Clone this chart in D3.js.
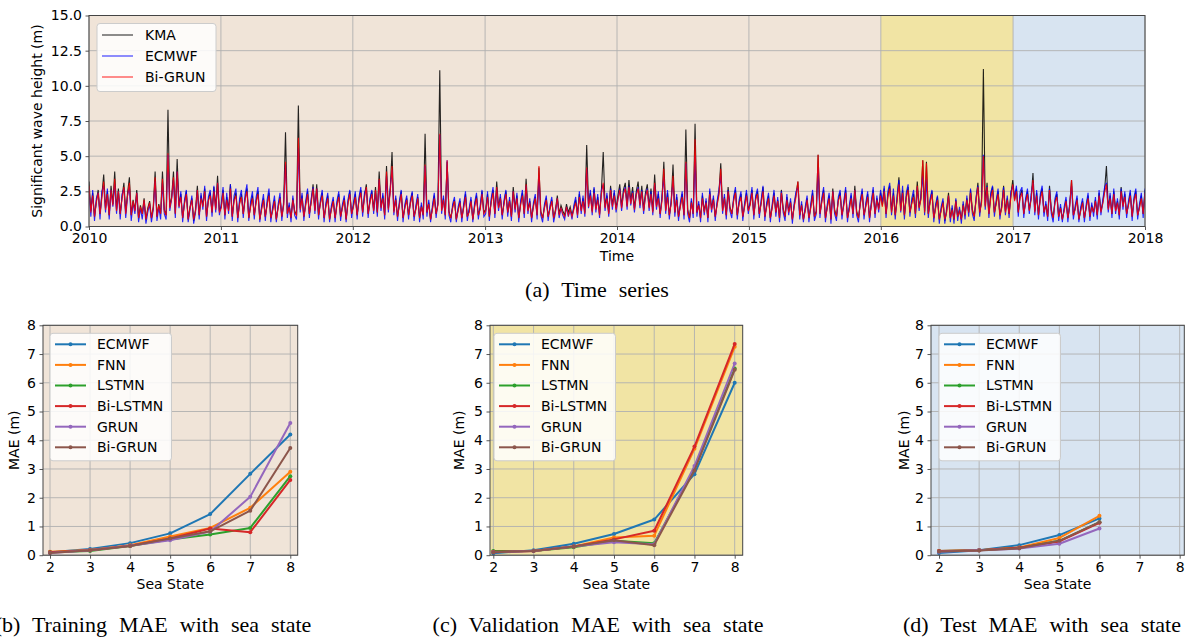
<!DOCTYPE html>
<html><head><meta charset="utf-8">
<script src="https://cdn.jsdelivr.net/npm/d3@7"></script>
<style>
body{margin:0;background:#fff}
svg{display:block}
text{font-family:"DejaVu Sans",sans-serif;fill:#000}
.cap{font-family:"Liberation Serif","Times New Roman",serif;font-size:22px;word-spacing:6.5px}
</style></head>
<body><svg id="chart" width="1189" height="641"></svg>
<script>
// ---------------- data ----------------
const years = [2010, 2011, 2012, 2013, 2014, 2015, 2016, 2017, 2018];
const periods = ["Training", "Validation", "Test"];
const periodStart = [2010, 2016, 2017];
const periodEnd = [2016, 2017, 2018];
const yTicksTop = [0, 2.5, 5, 7.5, 10, 12.5, 15];
const seriesNames = ["KMA", "ECMWF", "Bi-GRUN"];

// ~5-day samples, one row per year, 2010-2017
const kma = [
 3.2,1.1,2.4,0.7,1.8,2.6,0.9,2.2,3.7,1.3,2.5,0.8,2.9,1.6,3.9,1.2,2.7,0.9,2.1,3.1,1.0,2.4,3.5,0.8,1.9,1.2,2.6,0.6,1.5,0.9,2.0,0.5,1.3,1.8,0.6,1.4,3.9,0.7,1.6,0.9,3.9,1.2,0.8,8.3,1.4,2.1,3.9,0.9,4.8,1.5,2.3,0.6,1.7,2.5,0.5,1.4,2.0,0.4,1.2,2.9,0.8,2.2,1.5,2.7,0.7,1.9,2.4,1.0,2.8,1.3,3.6,1.1,
 1.4,2.6,0.8,2.1,1.2,3.0,0.7,1.9,2.4,0.6,1.7,2.3,0.9,2.0,2.7,0.6,1.5,2.2,0.8,1.8,2.5,0.5,1.3,2.0,0.7,1.6,2.4,0.6,1.2,1.9,0.5,1.4,2.1,0.7,1.6,6.7,0.9,1.5,0.6,2.0,1.1,0.8,8.6,1.3,2.2,0.7,1.6,2.5,0.9,1.8,3.0,1.2,3.0,0.8,1.7,2.4,0.6,1.5,2.2,0.5,1.3,1.9,0.6,1.6,2.3,0.7,1.4,2.0,0.5,1.7,2.5,0.9,
 1.5,2.3,0.8,1.9,2.6,1.0,2.2,3.0,0.9,1.8,2.5,1.2,2.8,1.0,3.9,1.4,2.2,0.8,4.3,1.3,2.6,5.3,1.1,2.0,0.7,1.6,2.5,0.6,1.4,2.0,0.8,1.7,2.4,0.7,1.3,2.1,0.6,1.5,0.8,6.6,1.0,1.7,0.5,1.3,2.2,0.9,1.6,11.1,1.2,2.0,0.8,4.6,1.1,0.6,1.4,1.9,0.5,1.2,1.8,0.6,1.4,2.3,0.7,1.1,1.9,0.5,1.5,2.2,0.8,1.3,2.5,1.0,
 1.2,2.3,0.7,1.8,2.6,0.9,3.2,1.4,2.1,0.8,1.7,2.5,1.0,1.9,0.7,2.8,1.3,2.2,0.6,1.6,2.4,0.9,3.4,1.2,1.8,0.6,1.5,2.1,0.8,4.2,1.1,0.6,1.4,2.0,0.7,1.3,1.9,0.6,1.2,2.2,0.9,1.5,1.1,0.8,1.6,1.0,1.4,0.8,1.3,1.9,0.9,2.3,1.2,2.0,1.0,5.8,1.6,2.4,1.1,2.7,1.3,2.1,0.9,2.5,5.3,1.4,2.2,1.0,2.9,1.5,2.4,1.3,
 2.2,3.0,1.4,2.6,3.1,1.5,3.3,1.8,2.8,1.3,2.5,3.2,1.6,2.9,1.2,2.4,3.0,1.4,2.7,1.1,3.7,1.5,2.3,0.9,2.0,4.6,1.2,2.4,0.8,1.7,4.4,1.0,2.1,0.7,1.5,2.3,0.8,6.9,1.2,0.6,1.8,0.9,7.3,1.0,1.6,0.6,2.2,1.1,1.8,0.6,2.5,1.3,2.0,0.7,1.6,2.4,4.5,1.2,2.1,0.8,2.8,1.4,0.9,1.9,2.6,0.8,1.7,2.3,0.7,1.5,2.4,1.2,
 1.6,2.6,0.8,2.0,2.5,0.9,1.7,2.8,0.7,1.5,2.2,0.6,1.4,2.4,1.0,1.9,0.6,2.6,1.3,0.7,2.1,1.1,1.8,0.5,1.5,2.3,3.2,0.8,1.6,0.5,1.2,2.0,0.6,1.4,2.4,0.7,1.1,5.1,0.9,1.8,2.6,0.6,1.4,2.2,0.5,2.7,1.2,0.7,1.9,2.4,0.8,1.6,2.6,0.6,1.3,2.2,0.9,2.9,1.1,0.6,1.7,2.5,0.8,1.5,2.3,0.6,1.6,2.6,0.9,2.0,1.3,2.4,
 1.5,2.7,0.9,2.2,2.9,1.1,2.4,0.8,1.9,3.5,1.2,2.6,0.8,2.1,2.8,1.0,1.7,2.3,0.9,3.2,1.4,2.0,4.7,1.1,4.6,0.9,1.8,2.5,0.6,1.4,2.1,0.5,1.2,1.8,0.4,1.1,2.4,0.6,1.3,0.5,1.9,0.7,1.2,0.5,1.6,0.8,2.0,1.0,2.6,1.2,0.7,1.9,3.1,1.0,1.8,11.2,1.5,3.1,0.9,2.2,2.8,1.0,1.7,2.5,0.8,1.4,2.9,1.1,2.0,0.9,2.3,3.3,
 1.9,2.7,1.0,2.2,2.6,0.9,1.8,2.5,1.2,2.0,3.8,1.1,2.4,0.8,2.1,2.7,1.0,1.6,0.7,2.9,1.2,0.6,1.8,2.3,0.7,1.4,0.5,1.2,1.9,0.6,1.5,3.3,0.8,1.3,2.0,0.5,1.2,1.8,0.6,1.4,2.2,0.7,1.5,1.0,1.9,0.8,2.4,1.1,1.7,2.6,4.3,1.3,2.2,0.9,2.5,1.2,1.8,0.8,2.8,1.5,2.3,0.9,1.6,2.4,0.7,1.9,2.5,0.8,1.4,2.2,0.9,2.6
];
const ecmwf = [
 2.7,0.7,2.6,0.4,2.0,2.4,0.5,2.5,2.9,1.0,2.7,0.5,2.6,1.4,3.0,0.9,2.5,0.5,2.3,2.7,0.6,2.2,2.8,0.4,1.7,0.9,2.4,0.3,1.3,0.5,1.8,0.2,1.0,1.6,0.3,1.2,3.2,0.4,1.4,0.5,3.1,0.9,0.5,5.1,1.1,2.0,3.3,0.6,3.9,1.3,2.5,0.3,1.9,2.6,0.3,1.2,2.2,0.2,1.0,2.6,0.5,2.4,1.2,2.9,0.4,2.1,2.6,0.7,2.9,1.0,3.1,0.8,
 1.6,2.8,0.5,2.4,0.9,3.0,0.4,2.2,2.7,0.3,2.0,2.6,0.6,2.3,3.0,0.4,1.8,2.5,0.5,2.1,2.8,0.3,1.5,2.3,0.4,1.9,2.7,0.3,1.4,2.2,0.3,1.6,2.4,0.4,1.8,4.4,0.6,1.7,0.3,2.2,0.8,0.5,5.6,1.0,2.4,0.4,1.8,2.7,0.6,2.0,2.8,0.9,2.7,0.5,1.9,2.6,0.3,1.7,2.4,0.3,1.5,2.1,0.3,1.8,2.5,0.4,1.6,2.2,0.3,1.9,2.6,0.6,
 1.7,2.5,0.5,2.1,2.8,0.7,2.4,2.7,0.6,2.0,2.6,0.9,2.5,0.7,3.3,1.1,2.4,0.5,3.6,1.0,2.7,4.0,0.8,2.2,0.4,1.8,2.6,0.3,1.6,2.2,0.5,1.9,2.5,0.4,1.5,2.3,0.3,1.7,0.5,4.3,0.7,1.9,0.3,1.5,2.4,0.6,1.8,6.5,0.9,2.2,0.5,4.7,0.8,0.3,1.6,2.1,0.3,1.4,2.0,0.3,1.6,2.5,0.4,1.3,2.1,0.3,1.7,2.4,0.5,1.5,2.6,0.7,
 0.9,2.5,0.4,2.0,2.8,0.6,2.7,1.1,2.3,0.5,1.9,2.6,0.7,2.1,0.4,2.5,1.0,2.4,0.3,1.8,2.6,0.6,2.9,0.9,2.0,0.3,1.7,2.3,0.5,3.6,0.8,0.3,1.6,2.2,0.4,1.5,2.1,0.3,1.0,2.0,0.6,1.3,0.8,0.5,1.4,0.7,1.2,0.5,1.5,2.1,0.6,2.5,0.9,2.2,0.7,4.1,1.3,2.6,0.8,2.8,1.0,2.3,0.6,2.6,3.0,1.1,2.4,0.7,2.7,1.2,2.6,1.0,
 1.9,2.7,1.1,2.4,2.8,1.2,2.9,1.5,2.5,1.0,2.3,2.8,1.3,2.6,0.9,2.2,2.7,1.1,2.5,0.8,3.0,1.2,2.5,0.6,2.2,3.5,0.9,2.6,0.5,1.9,3.2,0.7,2.3,0.4,1.7,2.5,0.5,4.5,0.9,0.3,2.0,0.6,5.0,0.7,1.8,0.3,2.4,0.8,2.0,0.3,2.7,1.0,2.2,0.4,1.8,2.6,3.6,0.9,2.3,0.5,2.6,1.1,0.6,2.1,2.8,0.5,1.9,2.5,0.4,1.7,2.6,0.9,
 1.8,2.8,0.5,2.2,2.7,0.6,1.9,2.9,0.4,1.7,2.4,0.3,1.6,2.6,0.7,2.1,0.3,2.5,1.0,0.4,2.3,0.8,2.0,0.2,1.7,2.5,2.8,0.5,1.8,0.3,1.4,2.2,0.3,1.6,2.6,0.4,0.9,4.2,0.6,2.0,2.8,0.3,1.6,2.4,0.2,2.5,0.9,0.4,2.1,2.6,0.5,1.8,2.8,0.3,1.5,2.4,0.6,2.6,0.8,0.3,1.9,2.7,0.5,1.7,2.5,0.3,1.8,2.8,0.6,2.2,1.0,2.6,
 1.7,2.9,0.6,2.5,3.1,0.8,2.7,0.5,2.2,3.3,1.0,2.9,0.5,2.4,3.0,0.7,2.0,2.6,0.6,2.8,1.1,2.3,3.6,0.8,3.4,0.6,2.0,2.6,0.3,1.6,2.2,0.2,1.4,2.0,0.2,1.3,2.2,0.3,1.5,0.2,2.0,0.4,1.4,0.2,1.8,0.5,2.2,0.7,2.7,0.9,0.4,2.1,2.9,0.7,2.0,5.1,1.2,2.9,0.6,2.4,2.9,0.7,1.9,2.7,0.5,1.6,2.8,0.8,2.2,0.6,2.5,2.9,
 2.1,2.9,0.7,2.5,2.8,0.6,2.0,2.7,0.9,2.3,3.1,0.8,2.6,0.5,2.3,2.9,0.7,1.8,0.4,2.7,0.9,0.3,2.0,2.5,0.4,1.6,0.3,1.4,2.1,0.3,1.7,2.9,0.5,1.5,2.2,0.3,1.4,2.0,0.3,1.6,2.4,0.4,1.7,0.7,2.1,0.5,2.6,0.8,1.9,2.8,3.1,1.0,2.4,0.6,2.7,0.9,2.0,0.5,2.7,1.2,2.5,0.6,1.8,2.6,0.4,2.1,2.7,0.5,1.6,2.4,0.6,2.7
];
const biGrun = [
 2.9,1.0,2.2,0.7,1.7,2.4,0.9,2.0,3.2,1.2,2.3,0.8,2.6,1.5,3.4,1.1,2.5,0.9,2.0,2.8,0.9,2.2,3.1,0.8,1.8,1.1,2.4,0.6,1.4,0.9,1.9,0.5,1.2,1.7,0.6,1.3,3.5,0.7,1.5,0.9,3.4,1.1,0.8,5.2,1.3,2.0,3.5,0.9,3.9,1.4,2.1,0.6,1.6,2.3,0.5,1.3,1.9,0.5,1.1,2.6,0.8,2.0,1.4,2.5,0.7,1.8,2.2,1.0,2.5,1.2,3.1,1.0,
 1.3,2.4,0.8,1.9,1.1,2.7,0.7,1.8,2.2,0.6,1.6,2.1,0.9,1.9,2.5,0.6,1.4,2.0,0.8,1.7,2.3,0.5,1.2,1.9,0.7,1.5,2.2,0.6,1.1,1.8,0.5,1.3,2.0,0.7,1.5,4.6,0.9,1.4,0.6,1.9,1.0,0.8,6.3,1.2,2.0,0.7,1.5,2.3,0.9,1.7,2.7,1.1,2.7,0.8,1.6,2.2,0.6,1.4,2.0,0.5,1.2,1.8,0.6,1.5,2.1,0.7,1.3,1.9,0.5,1.6,2.3,0.9,
 1.4,2.1,0.8,1.8,2.4,1.0,2.0,2.8,0.9,1.7,2.3,1.1,2.6,1.0,3.4,1.3,2.0,0.8,3.9,1.2,2.4,4.3,1.0,1.9,0.7,1.5,2.3,0.6,1.3,1.9,0.8,1.6,2.2,0.7,1.2,2.0,0.6,1.4,0.8,4.4,1.0,1.6,0.5,1.2,2.0,0.9,1.5,6.6,1.1,1.9,0.8,4.7,1.0,0.6,1.3,1.8,0.5,1.1,1.7,0.6,1.3,2.1,0.7,1.0,1.8,0.5,1.4,2.0,0.8,1.2,2.3,0.9,
 1.1,2.1,0.7,1.7,2.4,0.9,2.8,1.3,2.0,0.8,1.6,2.3,1.0,1.8,0.7,2.5,1.2,2.0,0.6,1.5,2.2,0.9,3.0,1.1,1.7,0.6,1.4,2.0,0.8,4.3,1.0,0.6,1.3,1.9,0.7,1.2,1.8,0.6,1.1,2.0,0.8,1.3,0.9,0.7,1.4,0.8,1.2,0.7,1.2,1.7,0.8,2.1,1.1,1.8,0.9,4.2,1.4,2.2,1.0,2.4,1.2,1.9,0.8,2.3,3.1,1.3,2.0,0.9,2.6,1.4,2.2,1.2,
 1.9,2.6,1.3,2.3,2.7,1.4,2.8,1.6,2.4,1.2,2.2,2.7,1.5,2.5,1.1,2.1,2.6,1.3,2.3,1.0,3.1,1.4,2.0,0.9,1.8,4.1,1.1,2.1,0.8,1.6,3.6,1.0,1.9,0.7,1.4,2.1,0.8,4.6,1.1,0.6,1.7,0.9,6.2,1.0,1.5,0.6,2.0,1.0,1.7,0.6,2.3,1.2,1.9,0.7,1.5,2.2,4.1,1.1,2.0,0.8,2.5,1.3,0.9,1.8,2.4,0.8,1.6,2.1,0.7,1.4,2.2,1.1,
 1.5,2.4,0.8,1.9,2.3,0.9,1.6,2.5,0.7,1.4,2.0,0.6,1.3,2.2,1.0,1.8,0.6,2.4,1.2,0.7,1.9,1.0,1.7,0.5,1.4,2.1,3.2,0.8,1.5,0.5,1.1,1.9,0.6,1.3,2.2,0.7,1.0,5.1,0.9,1.7,2.4,0.6,1.3,2.0,0.5,2.5,1.1,0.7,1.8,2.2,0.8,1.5,2.4,0.6,1.2,2.0,0.9,2.6,1.0,0.6,1.6,2.3,0.8,1.4,2.1,0.6,1.5,2.4,0.9,1.9,1.2,2.2,
 1.4,2.5,0.9,2.1,2.7,1.0,2.2,0.8,1.8,3.0,1.1,2.4,0.8,2.0,2.6,1.0,1.6,2.1,0.9,2.9,1.3,1.9,4.7,1.0,4.5,0.9,1.7,2.3,0.6,1.3,1.9,0.5,1.1,1.7,0.5,1.0,2.2,0.6,1.2,0.5,1.8,0.7,1.1,0.5,1.5,0.8,1.9,1.0,2.4,1.1,0.7,1.8,2.8,1.0,1.7,5.0,1.4,2.8,0.9,2.0,2.6,1.0,1.6,2.3,0.8,1.3,2.6,1.0,1.9,0.9,2.1,3.0,
 1.8,2.5,1.0,2.0,2.4,0.9,1.7,2.3,1.1,1.9,3.3,1.0,2.2,0.8,1.9,2.5,1.0,1.5,0.7,2.6,1.1,0.6,1.7,2.1,0.7,1.3,0.5,1.1,1.8,0.6,1.4,3.3,0.8,1.2,1.9,0.5,1.1,1.7,0.6,1.3,2.0,0.7,1.4,1.0,1.8,0.8,2.2,1.0,1.6,2.4,3.0,1.2,2.0,0.9,2.3,1.1,1.7,0.8,2.5,1.4,2.1,0.9,1.5,2.2,0.7,1.8,2.3,0.8,1.3,2.0,0.9,2.4
];

const seaStates = [2, 3, 4, 5, 6, 7, 8];
const maeTicks = [0, 1, 2, 3, 4, 5, 6, 7, 8];
const models = ["ECMWF", "FNN", "LSTMN", "Bi-LSTMN", "GRUN", "Bi-GRUN"];
// rows follow `models`
const trainMAE = [
  [0.10, 0.22, 0.42, 0.76, 1.43, 2.83, 4.20],
  [0.12, 0.18, 0.35, 0.65, 0.95, 1.65, 2.90],
  [0.10, 0.15, 0.32, 0.55, 0.72, 0.95, 2.75],
  [0.10, 0.17, 0.33, 0.58, 0.93, 0.80, 2.62],
  [0.08, 0.17, 0.33, 0.52, 0.82, 2.03, 4.60],
  [0.08, 0.17, 0.32, 0.58, 0.83, 1.55, 3.73]
];
const valMAE = [
  [0.07, 0.17, 0.40, 0.74, 1.24, 2.82, 6.00],
  [0.12, 0.15, 0.30, 0.62, 0.68, 3.70, 7.25],
  [0.15, 0.15, 0.28, 0.50, 0.42, 3.00, 6.50],
  [0.12, 0.15, 0.30, 0.55, 0.85, 3.78, 7.35],
  [0.10, 0.15, 0.30, 0.45, 0.38, 3.10, 6.67],
  [0.10, 0.15, 0.30, 0.52, 0.35, 2.95, 6.45]
];
const testMAE = [
  [0.08, 0.17, 0.35, 0.70, 1.28],
  [0.15, 0.17, 0.27, 0.60, 1.37],
  [0.15, 0.17, 0.25, 0.50, 1.15],
  [0.15, 0.17, 0.26, 0.48, 1.13],
  [0.12, 0.17, 0.23, 0.40, 0.93],
  [0.13, 0.16, 0.24, 0.50, 1.15]
];
const captions = ["(a) Time series", "(b) Training MAE with sea state",
  "(c) Validation MAE with sea state", "(d) Test MAE with sea state"];

// ---------------- styles ----------------
const periodColors = ["#f0e4d8", "#f1e4a4", "#d8e4f1"];
const seriesColors = ["#000000", "#0000ff", "#ff0000"];
const modelColors = ["#1f77b4", "#ff7f0e", "#2ca02c", "#d62728", "#9467bd", "#8c564b"];
const gridColor = "#b0b0b0";
const spineColor = "#444";

const svg = d3.select("#chart");

function styleAxis(g) {
  g.selectAll("path.domain").remove();
  g.selectAll(".tick line").attr("stroke", spineColor).attr("stroke-width", 0.9);
  g.selectAll(".tick text").attr("font-size", 14).attr("font-family", "DejaVu Sans").attr("fill", "#000");
}

function legend(g, x, y, w, h, names, colors, rowStep, first, markers, opacity) {
  const lg = g.append("g").attr("transform", `translate(${x},${y})`);
  lg.append("rect").attr("width", w).attr("height", h).attr("rx", 3)
    .attr("fill", "#fff").attr("fill-opacity", 0.85).attr("stroke", "#cccccc");
  names.forEach((n, i) => {
    const yy = first + i * rowStep;
    lg.append("line").attr("x1", 5).attr("x2", 36).attr("y1", yy).attr("y2", yy)
      .attr("stroke", colors[i]).attr("stroke-width", markers ? 2 : 1.2).attr("stroke-opacity", opacity);
    if (markers) lg.append("circle").attr("cx", 20.5).attr("cy", yy).attr("r", 2).attr("fill", colors[i]);
    lg.append("text").attr("x", markers ? 47 : 48).attr("y", yy).attr("dy", "0.35em")
      .attr("font-size", 14).text(n);
  });
}

// ---------------- (a) time series ----------------
{
  const L = 89, R = 1145, T = 15.5, B = 226.5;
  const t0 = Date.UTC(years[0], 0, 1), t1 = Date.UTC(years[years.length - 1], 0, 1);
  const x = d3.scaleUtc().domain([t0, t1]).range([L, R]);
  const y = d3.scaleLinear().domain([0, 15]).range([B, T]);
  const g = svg.append("g");

  periods.forEach((p, i) => {
    g.append("rect")
      .attr("x", x(Date.UTC(periodStart[i], 0, 1))).attr("y", T)
      .attr("width", x(Date.UTC(periodEnd[i], 0, 1)) - x(Date.UTC(periodStart[i], 0, 1)))
      .attr("height", B - T).attr("fill", periodColors[i]);
  });
  const yearDates = years.map(yr => Date.UTC(yr, 0, 1));
  g.selectAll(".gx").data(yearDates).join("line")
    .attr("x1", d => x(d)).attr("x2", d => x(d)).attr("y1", T).attr("y2", B)
    .attr("stroke", gridColor).attr("stroke-width", 0.9);
  g.selectAll(".gy").data(yTicksTop).join("line")
    .attr("x1", L).attr("x2", R).attr("y1", d => y(d)).attr("y2", d => y(d))
    .attr("stroke", gridColor).attr("stroke-width", 0.9);

  svg.append("clipPath").attr("id", "clipA").append("rect")
    .attr("x", L).attr("y", T).attr("width", R - L).attr("height", B - T);
  const dataG = g.append("g").attr("clip-path", "url(#clipA)");
  [kma, ecmwf, biGrun].forEach((arr, si) => {
    const n = arr.length;
    const line = d3.line()
      .x((d, i) => x(t0 + i / (n - 1) * (t1 - t0)))
      .y(d => y(d));
    dataG.append("path").datum(arr).attr("d", line)
      .attr("fill", "none").attr("stroke", seriesColors[si])
      .attr("stroke-width", 1.1).attr("stroke-opacity", 0.85).attr("stroke-linejoin", "miter");
  });

  g.append("rect").attr("x", L).attr("y", T).attr("width", R - L).attr("height", B - T)
    .attr("fill", "none").attr("stroke", spineColor).attr("stroke-width", 1);

  g.append("g").attr("transform", `translate(0,${B})`)
    .call(d3.axisBottom(x).tickValues(yearDates).tickFormat(d3.utcFormat("%Y")).tickSize(3.5).tickPadding(3))
    .call(styleAxis);
  g.append("g").attr("transform", `translate(${L},0)`)
    .call(d3.axisLeft(y).tickValues(yTicksTop).tickFormat(d3.format(".1f")).tickSize(3.5).tickPadding(3.5))
    .call(styleAxis);

  g.append("text").attr("x", (L + R) / 2).attr("y", 261).attr("text-anchor", "middle")
    .attr("font-size", 14).text("Time");
  g.append("text").attr("transform", `translate(42,${(T + B) / 2}) rotate(-90)`)
    .attr("text-anchor", "middle").attr("font-size", 14).text("Significant wave height (m)");

  legend(g, 97, 23.5, 119, 68, seriesNames, seriesColors, 21, 11.5, false, 0.75);

  svg.append("text").attr("class", "cap").attr("x", 597).attr("y", 297)
    .attr("text-anchor", "middle").text(captions[0]);
}

// ---------------- (b)(c)(d) MAE panels ----------------
const panels = [
  {L: 43, R: 297.7, dom: [1.825, 8.185], data: trainMAE, bg: periodColors[0], ylab: 19, cap: 153, lx: 50},
  {L: 490, R: 742.7, dom: [1.918, 8.199], data: valMAE, bg: periodColors[1], ylab: 464, cap: 598, lx: 494},
  {L: 931, R: 1184.3, dom: [1.8, 8.115], data: testMAE, bg: periodColors[2], ylab: 909, cap: 1042, lx: 939}
];
panels.forEach((p, pi) => {
  const T = 325.3, B = 555.2;
  const x = d3.scaleLinear().domain(p.dom).range([p.L, p.R]);
  const y = d3.scaleLinear().domain([0, 8]).range([B, T]);
  const g = svg.append("g");
  g.append("rect").attr("x", p.L).attr("y", T).attr("width", p.R - p.L).attr("height", B - T).attr("fill", p.bg);
  g.selectAll(".gx").data(seaStates).join("line")
    .attr("x1", d => x(d)).attr("x2", d => x(d)).attr("y1", T).attr("y2", B)
    .attr("stroke", gridColor).attr("stroke-width", 0.9);
  g.selectAll(".gy").data(maeTicks).join("line")
    .attr("x1", p.L).attr("x2", p.R).attr("y1", d => y(d)).attr("y2", d => y(d))
    .attr("stroke", gridColor).attr("stroke-width", 0.9);

  const line = d3.line().x((d, i) => x(seaStates[i])).y(d => y(d));
  p.data.forEach((row, mi) => {
    g.append("path").datum(row).attr("d", line).attr("fill", "none")
      .attr("stroke", modelColors[mi]).attr("stroke-width", 2).attr("stroke-linejoin", "round");
    g.selectAll(null).data(row).join("circle")
      .attr("cx", (d, i) => x(seaStates[i])).attr("cy", d => y(d)).attr("r", 2)
      .attr("fill", modelColors[mi]);
  });

  g.append("rect").attr("x", p.L).attr("y", T).attr("width", p.R - p.L).attr("height", B - T)
    .attr("fill", "none").attr("stroke", spineColor).attr("stroke-width", 1);
  g.append("g").attr("transform", `translate(0,${B})`)
    .call(d3.axisBottom(x).tickValues(seaStates).tickFormat(d3.format("d")).tickSize(3.5).tickPadding(3.5))
    .call(styleAxis);
  g.append("g").attr("transform", `translate(${p.L},0)`)
    .call(d3.axisLeft(y).tickValues(maeTicks).tickFormat(d3.format("d")).tickSize(3.5).tickPadding(3.5))
    .call(styleAxis);

  g.append("text").attr("x", (p.L + p.R) / 2).attr("y", 589).attr("text-anchor", "middle")
    .attr("font-size", 14).text("Sea State");
  g.append("text").attr("transform", `translate(${p.ylab},${(T + B) / 2}) rotate(-90)`)
    .attr("text-anchor", "middle").attr("font-size", 14).text("MAE (m)");

  legend(g, p.lx, 333.3, 121.5, 127.5, models, modelColors, 20.6, 11, true, 1);

  svg.append("text").attr("class", "cap").attr("x", p.cap).attr("y", 632)
    .attr("text-anchor", "middle").text(captions[pi + 1]);
});
</script>
</body></html>
